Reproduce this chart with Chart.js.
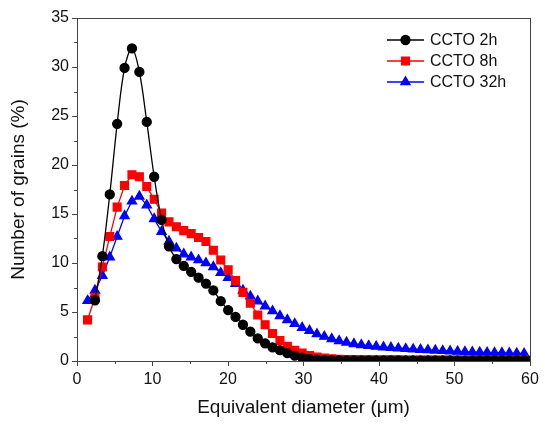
<!DOCTYPE html>
<html lang="en">
<head>
<meta charset="UTF-8">
<title>Grain size distribution</title>
<style>
  html, body { margin: 0; padding: 0; background: #fff; }
  #wrap { width: 545px; height: 424px; }
</style>
</head>
<body>
<div id="wrap"><canvas id="grainChart" width="545" height="424"></canvas></div>
<script src="https://cdn.jsdelivr.net/npm/chart.js@4"></script>
<script>
  // equivalent diameter of each size class (µm)
  const diameters = [1.40, 2.38, 3.36, 4.34, 5.32, 6.30, 7.28, 8.26, 9.24, 10.22,
    11.20, 12.18, 13.16, 14.14, 15.12, 16.10, 17.08, 18.06, 19.04, 20.02,
    21.00, 21.98, 22.96, 23.94, 24.92, 25.90, 26.88, 27.86, 28.84, 29.82,
    30.80, 31.78, 32.76, 33.74, 34.72, 35.70, 36.68, 37.66, 38.64, 39.62,
    40.60, 41.58, 42.56, 43.54, 44.52, 45.50, 46.48, 47.46, 48.44, 49.42,
    50.40, 51.38, 52.36, 53.34, 54.32, 55.30, 56.28, 57.26, 58.24, 59.22, 60.20];

  const ccto2h = [null, 6.2, 10.7, 17.0, 24.2, 29.9, 31.9, 29.5, 24.4, 18.8,
    14.4, 11.7, 10.4, 9.7, 9.1, 8.5, 7.9, 7.2, 6.1, 5.2,
    4.5, 3.7, 3.0, 2.3, 1.8, 1.4, 1.1, 0.8, 0.55, 0.35,
    0.22, 0.15, 0.1, 0.08, 0.07, 0.06, 0.05, 0.05, 0.05, 0.05,
    0.05, 0.05, 0.05, 0.05, 0.05, 0.05, 0.05, 0.05, 0.05, 0.05,
    0.05, 0.05, 0.05, 0.05, 0.05, 0.05, 0.05, 0.05, 0.05, 0.05, 0.05];

  const ccto8h = [4.2, 6.5, 9.6, 12.7, 15.7, 17.9, 19.0, 18.8, 17.8, 16.5,
    15.1, 14.2, 13.7, 13.3, 13.0, 12.6, 12.2, 11.3, 10.3, 9.3,
    8.2, 7.0, 5.9, 4.7, 3.7, 2.8, 2.1, 1.5, 1.1, 0.8,
    0.55, 0.4, 0.3, 0.22, 0.17, 0.15, 0.14, 0.13, 0.13, 0.12,
    0.12, 0.12, 0.12, 0.11, 0.11, 0.11, 0.11, 0.11, 0.1, 0.1,
    0.1, 0.1, 0.1, 0.1, 0.1, 0.1, 0.1, 0.1, 0.1, 0.1];

  const ccto32h = [6.15, 7.2, 8.7, 10.6, 12.7, 14.8, 16.3, 16.8, 15.9, 14.5,
    13.2, 12.2, 11.5, 10.9, 10.6, 10.3, 10.0, 9.6, 9.0, 8.5,
    7.9, 7.2, 6.6, 6.1, 5.6, 5.1, 4.6, 4.2, 3.8, 3.4,
    3.1, 2.75, 2.5, 2.25, 2.05, 1.9, 1.75, 1.65, 1.55, 1.48,
    1.42, 1.36, 1.3, 1.25, 1.2, 1.16, 1.12, 1.08, 1.04, 1.0,
    0.97, 0.94, 0.91, 0.88, 0.86, 0.84, 0.82, 0.8, 0.78, 0.76];

  const seriesNames = ['CCTO 2h', 'CCTO 8h', 'CCTO 32h'];
  const xTickLabels = [0, 10, 20, 30, 40, 50, 60];
  const yTickLabels = [0, 5, 10, 15, 20, 25, 30, 35];

  const FONT = "Arial, 'Liberation Sans', sans-serif";

  function toPoints(values) {
    return diameters.map((x, i) => ({ x: x, y: values[i] }))
      .filter(p => p.y !== null && p.y !== undefined);
  }

  // minor ticks + closed frame
  const frameAndMinorTicks = {
    id: 'frameAndMinorTicks',
    afterDraw(chart) {
      const { ctx, chartArea: a, scales: { x, y } } = chart;
      ctx.save();
      ctx.strokeStyle = '#444';
      ctx.lineWidth = 1;
      ctx.strokeRect(a.left + 0.5, a.top + 0.5, a.right - a.left, a.bottom - a.top);
      ctx.beginPath();
      for (let v = 5; v < 60; v += 10) {
        const px = Math.round(x.getPixelForValue(v)) + 0.5;
        ctx.moveTo(px, a.bottom);
        ctx.lineTo(px, a.bottom + 3);
      }
      for (let v = 2.5; v < 35; v += 5) {
        const py = Math.round(y.getPixelForValue(v)) + 0.5;
        ctx.moveTo(a.left, py);
        ctx.lineTo(a.left - 3, py);
      }
      ctx.stroke();
      ctx.restore();
    }
  };

  // legend drawn inside the plot, top right
  const insideLegend = {
    id: 'insideLegend',
    afterDraw(chart) {
      const { ctx } = chart;
      const x0 = 387, x1 = 424, textX = 430;
      const rows = [40, 61, 82];
      ctx.save();
      chart.data.datasets.forEach((ds, i) => {
        const yy = rows[i];
        ctx.strokeStyle = ds.borderColor;
        ctx.lineWidth = 1.3;
        ctx.beginPath();
        ctx.moveTo(x0, yy);
        ctx.lineTo(x1, yy);
        ctx.stroke();
        ctx.fillStyle = ds.pointBackgroundColor;
        ctx.strokeStyle = ds.pointBackgroundColor;
        Chart.helpers.drawPoint(ctx, {
          pointStyle: ds.pointStyle, radius: ds.pointRadius, rotation: 0, borderWidth: 1
        }, (x0 + x1) / 2, yy);
        ctx.fillStyle = '#111';
        ctx.font = '16px ' + FONT;
        ctx.textBaseline = 'middle';
        ctx.textAlign = 'left';
        ctx.fillText(ds.label, textX, yy + 1);
      });
      ctx.restore();
    }
  };

  const ctx = document.getElementById('grainChart').getContext('2d');
  new Chart(ctx, {
    type: 'line',
    data: {
      datasets: [
        {
          label: seriesNames[0],
          data: toPoints(ccto2h),
          borderColor: '#000',
          backgroundColor: '#000',
          pointBackgroundColor: '#000',
          pointBorderColor: '#000',
          pointStyle: 'circle',
          pointRadius: 4.5,
          borderWidth: 1.3,
          tension: 0.35
        },
        {
          label: seriesNames[1],
          data: toPoints(ccto8h),
          borderColor: '#ff0000',
          backgroundColor: '#ff0000',
          pointBackgroundColor: '#ff0000',
          pointBorderColor: '#ff0000',
          pointStyle: 'rect',
          pointRadius: 5.5,
          borderWidth: 1.3,
          tension: 0
        },
        {
          label: seriesNames[2],
          data: toPoints(ccto32h),
          borderColor: '#0000ff',
          backgroundColor: '#0000ff',
          pointBackgroundColor: '#0000ff',
          pointBorderColor: '#0000ff',
          pointStyle: 'triangle',
          pointRadius: 5.3,
          borderWidth: 1.3,
          tension: 0
        }
      ]
    },
    options: {
      responsive: false,
      animation: false,
      devicePixelRatio: 1,
      layout: { padding: { top: 18, right: 15, left: 0, bottom: 0 } },
      plugins: {
        legend: { display: false },
        tooltip: { enabled: false }
      },
      scales: {
        x: {
          type: 'linear',
          min: 0,
          max: 60,
          afterFit(scale) { scale.height = 63; },
          afterBuildTicks(scale) { scale.ticks = xTickLabels.map(v => ({ value: v })); },
          border: { color: '#444', width: 1 },
          grid: { drawOnChartArea: false, drawTicks: true, tickLength: 5, color: '#444' },
          ticks: { color: '#111', padding: 4, font: { family: FONT, size: 16 } },
          title: {
            display: true,
            text: 'Equivalent diameter (μm)',
            color: '#111',
            font: { family: FONT, size: 19 },
            padding: { top: 0, bottom: 5 }
          }
        },
        y: {
          type: 'linear',
          min: 0,
          max: 35,
          afterFit(scale) { scale.width = 77; },
          afterBuildTicks(scale) { scale.ticks = yTickLabels.map(v => ({ value: v })); },
          border: { color: '#444', width: 1 },
          grid: { drawOnChartArea: false, drawTicks: true, tickLength: 5, color: '#444' },
          ticks: { color: '#111', padding: 3, font: { family: FONT, size: 16 } },
          title: {
            display: true,
            text: 'Number of grains (%)',
            color: '#111',
            font: { family: FONT, size: 19 },
            padding: { top: 7, bottom: 0 }
          }
        }
      }
    },
    plugins: [frameAndMinorTicks, insideLegend]
  });
</script>
</body>
</html>
